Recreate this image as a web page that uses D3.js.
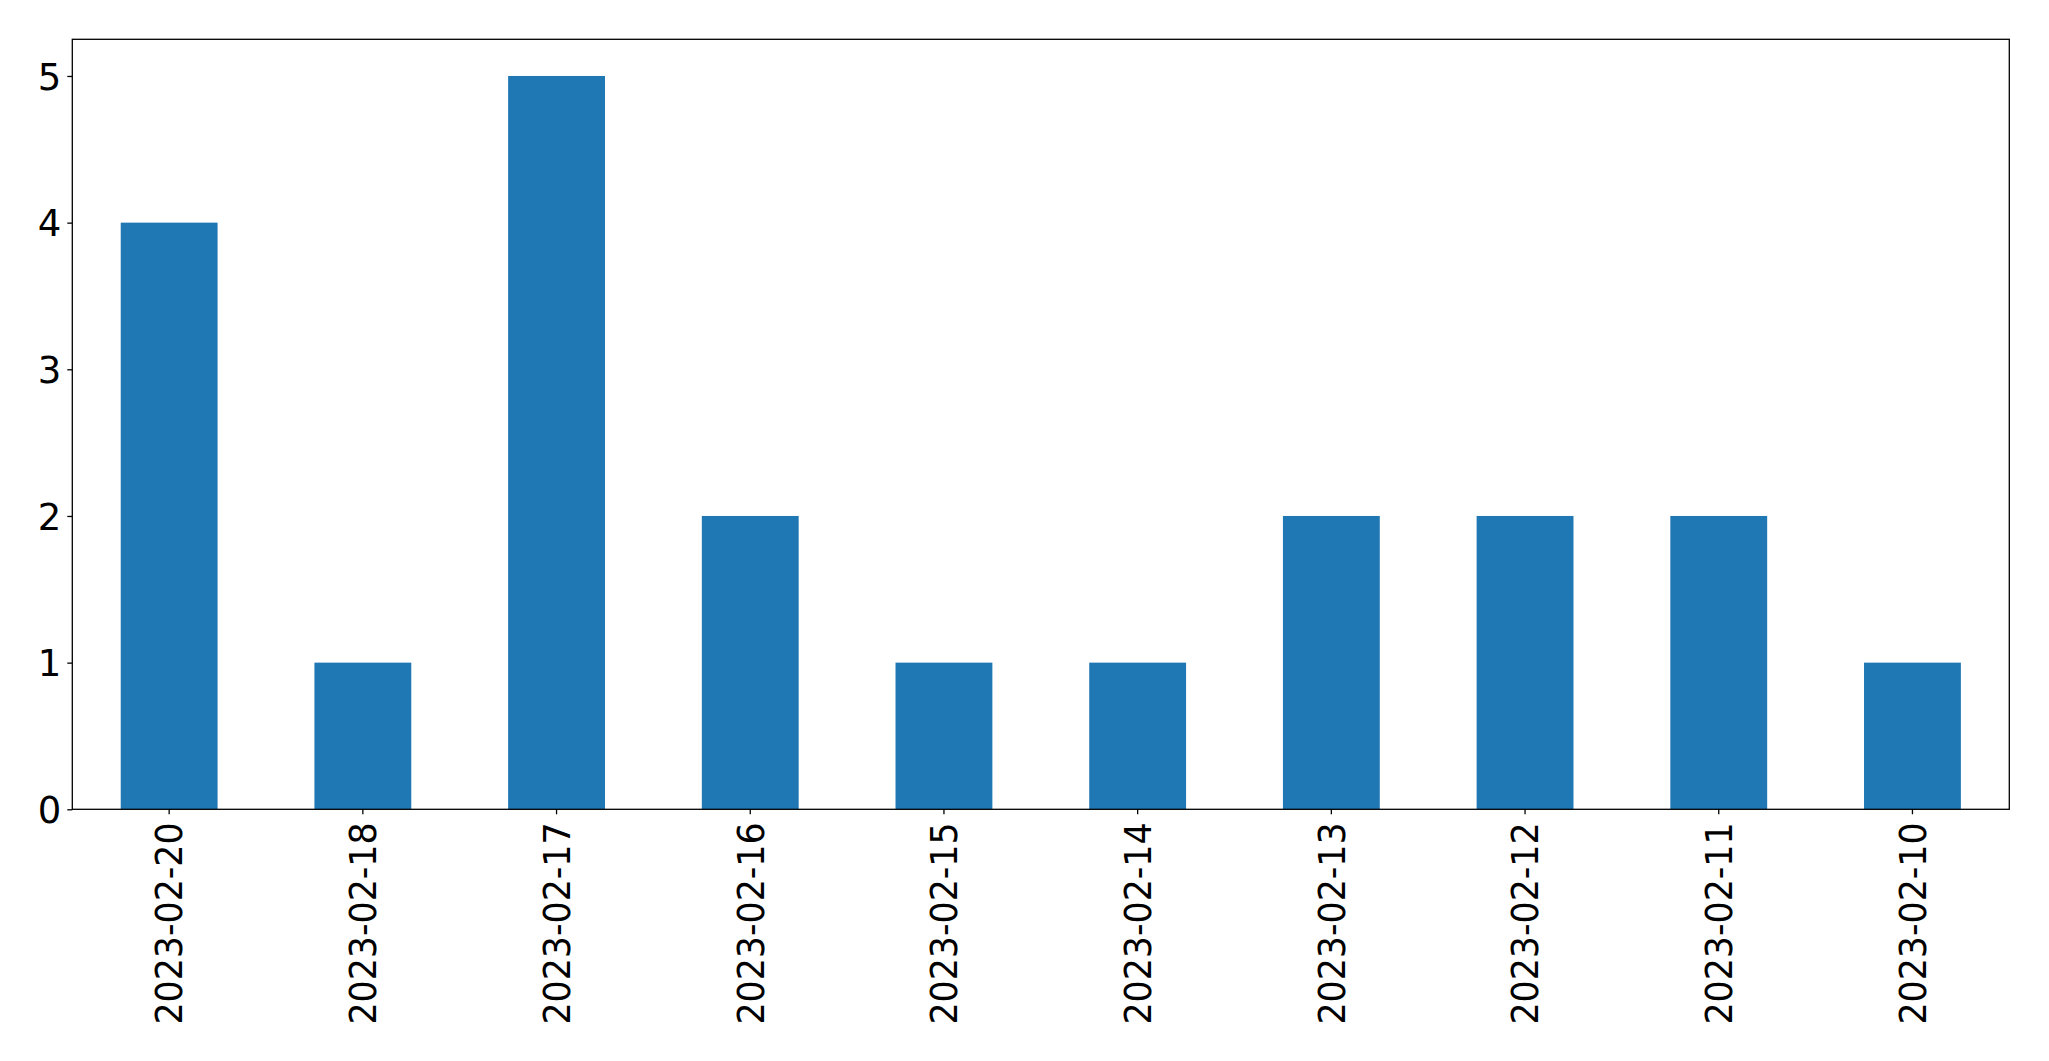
<!DOCTYPE html>
<html><head><meta charset="utf-8">
<script src="https://cdn.jsdelivr.net/npm/d3@7"></script>
<style>html,body{margin:0;padding:0;background:#fff;}svg{display:block;}</style>
</head><body>
<script>
const categories = ["2023-02-20","2023-02-18","2023-02-17","2023-02-16","2023-02-15","2023-02-14","2023-02-13","2023-02-12","2023-02-11","2023-02-10"];
const values = [4,1,5,2,1,1,2,2,2,1];
const yTicks = [0,1,2,3,4,5];

const W = 2049, H = 1061;
const m = {left:72.3, right:2049-2009.3, top:39.3, bottom:1061-809.3};
const iw = W - m.left - m.right, ih = H - m.top - m.bottom;
const svg = d3.select("body").append("svg").attr("width",W).attr("height",H);
const g = svg.append("g").attr("transform",`translate(${m.left},${m.top})`);

const x = d3.scaleBand().domain(categories).range([0,iw]).paddingInner(0.5).paddingOuter(0.25);
const y = d3.scaleLinear().domain([0,5.25]).range([ih,0]);

g.selectAll("rect.bar").data(values).join("rect").attr("class","bar")
  .attr("x",(d,i)=>x(categories[i])).attr("width",x.bandwidth())
  .attr("y",d=>y(d)).attr("height",d=>y(0)-y(d)).attr("fill","#1f77b4");

const font = "DejaVu Sans";
const fs = 37;
const ya = g.append("g").call(d3.axisLeft(y).tickValues(yTicks).tickSize(5).tickPadding(6).tickFormat(d3.format("d")));
ya.select(".domain").remove();
ya.selectAll("line").attr("stroke","#000").attr("stroke-width",1.3);
ya.selectAll("text").attr("font-family",font).attr("font-size",fs).attr("fill","#000").attr("dy","0.36em");

const xa = g.append("g").attr("transform",`translate(0,${ih})`).call(d3.axisBottom(x).tickSize(5).tickPadding(10));
xa.select(".domain").remove();
xa.selectAll("line").attr("stroke","#000").attr("stroke-width",1.3);
xa.selectAll("text").attr("font-family",font).attr("font-size",fs).attr("fill","#000")
  .attr("transform","rotate(-90) scale(0.94,1)").attr("text-anchor","end").attr("x",-14).attr("y",0).attr("dy","0.36em");

g.append("rect").attr("x",0).attr("y",0).attr("width",iw).attr("height",ih)
  .attr("fill","none").attr("stroke","#000").attr("stroke-width",1.3);
</script>
</body></html>
